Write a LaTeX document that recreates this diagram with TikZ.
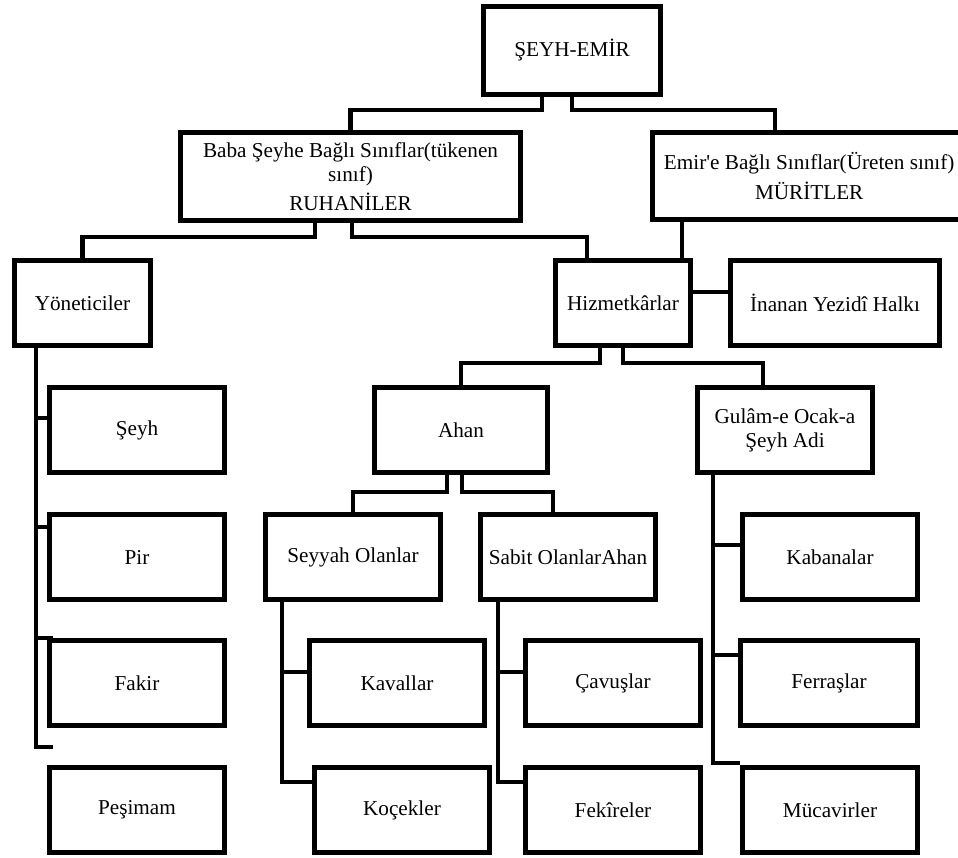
\documentclass[tikz,border=0pt]{standalone}
\usepackage{fontspec}
\setmainfont{Liberation Serif}[Ligatures=TeXOff]

\begin{document}
\begin{tikzpicture}[x=0.5pt,y=-0.5pt,
box/.style={draw=black, line width=2.4pt, align=center, inner sep=1pt, minimum width=87.6pt, minimum height=42.6pt, font=\fontsize{10.6}{12}\selectfont},
conn/.style={draw=black, line width=2.4pt}]
\useasboundingbox (0,0) rectangle (958,857);
\node (top) at (572,50.5) [box, minimum width=88.5pt, minimum height=44pt] {ŞEYH-EMİR};
\node (baba) at (350.5,176.5) [box, minimum width=170pt, minimum height=44pt] {Baba Şeyhe Bağlı Sınıflar(tükenen\\sınıf)\\[2.5pt]RUHANİLER};
\node (emir) at (809.2,176) [box, minimum width=156.8pt, minimum height=43.5pt] {Emir'e Bağlı Sınıflar(Üreten sınıf)\\[3pt]MÜRİTLER};
\node (yon) at (82.5,303) [box, minimum width=68pt] {Yöneticiler};
\node (hiz) at (623,303) [box, minimum width=67.5pt] {Hizmetkârlar};
\node (inanan) at (835,303) [box, minimum width=104.5pt] {İnanan Yezidî Halkı};
\node (seyh) at (137,430) [box] {Şeyh};
\node (ahan) at (461,430) [box, minimum width=86.6pt] {Ahan};
\node (gulam) at (785,430) [box] {Gulâm-e Ocak-a\\Şeyh Adi};
\node (pir) at (137,557) [box] {Pir};
\node (seyyah) at (353,557) [box] {Seyyah Olanlar};
\node (sabit) at (568,557) [box] {Sabit OlanlarAhan};
\node (kaban) at (830,557) [box] {Kabanalar};
\node (fakir) at (137,683) [box] {Fakir};
\node (kaval) at (397,683) [box] {Kavallar};
\node (cavus) at (613,683) [box] {Çavuşlar};
\node (ferras) at (829,683) [box, minimum width=88.6pt] {Ferraşlar};
\node (pesim) at (137,810) [box] {Peşimam};
\node (kocek) at (402,810) [box] {Koçekler};
\node (fekir) at (613,810) [box] {Fekîreler};
\node (mucav) at (830,810) [box] {Mücavirler};
\draw[conn] ([xshift=-15pt]top.south) -- ++(0,13) -| (baba.north);
\draw[conn] (top.south) -- ++(0,13) -| ([xshift=-17.1pt]emir.north);
\draw[conn] ([xshift=-17.75pt]baba.south) -- ++(0,14) -| (yon.north);
\draw[conn] ([xshift=0.75pt]baba.south) -- ++(0,14) -| ([xshift=-18pt]hiz.north);
\coordinate (emirhiz) at ([xshift=-63.6pt]emir.south);
\draw[conn] (emirhiz) -- (emirhiz |- hiz.north);
\draw[conn] ([yshift=5.5pt]hiz.east) -- ([yshift=5.5pt]inanan.west);
\draw[conn] ([xshift=-11.5pt]hiz.south) -- ++(0,15) -| (ahan.north);
\draw[conn] (hiz.south) -- ++(0,15) -| ([xshift=-11pt]gulam.north);
\draw[conn] ([xshift=-7pt]ahan.south) -- ++(0,17) -| (seyyah.north);
\draw[conn] ([xshift=0.5pt]ahan.south) -- ++(0,17) -| ([xshift=-7.5pt]sabit.north);
\coordinate (yonbus) at ([xshift=-23.25pt]yon.south);
\draw[conn] (yonbus) |- ([xshift=3pt,yshift=-9.5pt]fakir.south west);
\coordinate (seyhstub) at ([yshift=6pt]seyh.west);
\draw[conn] (seyhstub -| yonbus) -- (seyhstub);
\coordinate (pirstub) at ([yshift=15pt]pir.west);
\draw[conn] (pirstub -| yonbus) -- (pirstub);
\coordinate (fakirstub) at ([xshift=3pt]fakir.north west);
\draw[conn] (fakirstub -| yonbus) -- (fakirstub);
\coordinate (seyyahbus) at ([xshift=-35.5pt]seyyah.south);
\draw[conn] (seyyahbus) |- ([yshift=14pt]kocek.west);
\coordinate (kavalstub) at ([yshift=5.5pt]kaval.west);
\draw[conn] (kavalstub -| seyyahbus) -- (kavalstub);
\coordinate (sabitbus) at ([xshift=-35pt]sabit.south);
\draw[conn] (sabitbus) |- ([yshift=14pt]fekir.west);
\coordinate (cavusstub) at ([yshift=5.5pt]cavus.west);
\draw[conn] (cavusstub -| sabitbus) -- (cavusstub);
\coordinate (gulambus) at ([xshift=-36pt]gulam.south);
\draw[conn] (gulambus) |- ([yshift=1pt]mucav.north west);
\coordinate (kabanstub) at ([yshift=6pt]kaban.west);
\draw[conn] (kabanstub -| gulambus) -- (kabanstub);
\coordinate (ferrasstub) at ([yshift=14pt]ferras.west);
\draw[conn] (ferrasstub -| gulambus) -- (ferrasstub);
\end{tikzpicture}
\end{document}
